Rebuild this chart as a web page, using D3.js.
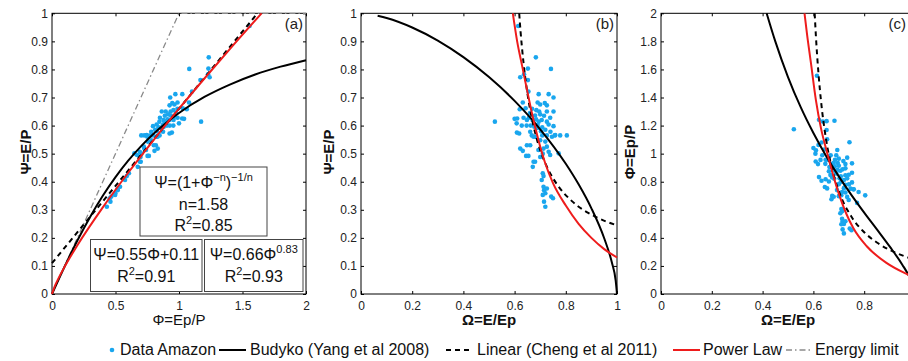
<!DOCTYPE html>
<html>
<head>
<meta charset="utf-8">
<script src="https://cdn.jsdelivr.net/npm/d3@7"></script>
<style>
  body { margin: 0; background: #fff; }
  svg { display: block; font-family: "Liberation Sans", Arial, sans-serif; }
  .tick text { font-size: 12px; fill: #222; font-family: "Liberation Sans", Arial, sans-serif; }
  .tick line { stroke: #000; }
</style>
</head>
<body>
<svg id="chart" width="908" height="361"></svg>
<script>
// Amazon basins: Omega = E/Ep and Psi = E/P
const omegaData = [
  0.614, 0.683, 0.742, 0.652, 0.637, 0.622, 0.652, 0.654, 0.694, 0.733,
  0.752, 0.632, 0.690, 0.700, 0.718, 0.726, 0.643, 0.620, 0.668, 0.685,
  0.696, 0.726, 0.752, 0.610, 0.600, 0.635, 0.648, 0.656, 0.670, 0.684,
  0.694, 0.706, 0.726, 0.739, 0.523, 0.608, 0.628, 0.647, 0.663, 0.677,
  0.690, 0.708, 0.720, 0.733, 0.752, 0.609, 0.618, 0.667, 0.682, 0.708,
  0.726, 0.757, 0.778, 0.804, 0.661, 0.674, 0.661, 0.648, 0.622, 0.632,
  0.645, 0.654, 0.693, 0.713, 0.726, 0.733, 0.739, 0.746, 0.759, 0.772,
  0.700, 0.720, 0.674, 0.680, 0.671, 0.710, 0.713, 0.713, 0.715, 0.720,
  0.710, 0.743, 0.750, 0.715, 0.720, 0.726, 0.706, 0.700, 0.715, 0.680,
  0.660, 0.690, 0.703, 0.740, 0.710, 0.700
];
const psiData = [
  0.955, 0.843, 0.802, 0.803, 0.783, 0.772, 0.762, 0.721, 0.712, 0.712,
  0.700, 0.682, 0.682, 0.675, 0.680, 0.672, 0.662, 0.658, 0.660, 0.655,
  0.650, 0.650, 0.650, 0.625, 0.624, 0.628, 0.620, 0.628, 0.620, 0.622,
  0.614, 0.620, 0.614, 0.628, 0.614, 0.608, 0.600, 0.600, 0.600, 0.596,
  0.592, 0.594, 0.585, 0.604, 0.598, 0.575, 0.572, 0.565, 0.560, 0.565,
  0.565, 0.565, 0.565, 0.565, 0.578, 0.560, 0.530, 0.530, 0.518, 0.510,
  0.492, 0.492, 0.513, 0.518, 0.525, 0.507, 0.495, 0.560, 0.566, 0.501,
  0.548, 0.543, 0.471, 0.471, 0.453, 0.430, 0.420, 0.382, 0.370, 0.359,
  0.353, 0.347, 0.341, 0.329, 0.311, 0.376, 0.406, 0.640, 0.635, 0.636,
  0.645, 0.602, 0.580, 0.578, 0.500, 0.488
];

// curves, [x, y]
const budykoA = [[0, 0], [0.05, 0.0497], [0.1, 0.0984], [0.2, 0.1906], [0.3, 0.2747], [0.4, 0.350], [0.5, 0.4165], [0.6, 0.475], [0.7, 0.526], [0.8, 0.571], [0.9, 0.610], [1.0, 0.645], [1.2, 0.702], [1.4, 0.746], [1.6, 0.782], [1.8, 0.810], [2.0, 0.833]];
const linearA = [[0, 0.11], [1.618, 1.0]];
const powerA = [[0, 0], [0.02, 0.0257], [0.05, 0.0549], [0.1, 0.0976], [0.2, 0.1736], [0.4, 0.3085], [0.6, 0.4319], [0.8, 0.5485], [1.0, 0.66], [1.2, 0.7678], [1.4, 0.8727], [1.65, 1.0]];
const energyA = [[0, 0], [1, 1], [2, 1]];

const budykoB = [[0.065, 0.9915], [0.1, 0.9833], [0.2, 0.9495], [0.3, 0.9028], [0.4, 0.8439], [0.5, 0.7728], [0.6, 0.688], [0.7, 0.5868], [0.8, 0.4638], [0.85, 0.3906], [0.9, 0.3052], [0.95, 0.1986], [0.98, 0.1119], [0.995, 0.0466], [1.0, 0]];
const linearB = [[0.618, 1.0], [0.6233, 0.935], [0.6286, 0.88], [0.6417, 0.77], [0.65, 0.715], [0.66, 0.66], [0.6875, 0.55], [0.7071, 0.495], [0.7333, 0.44], [0.77, 0.385], [0.825, 0.33], [0.9167, 0.275], [1.0, 0.2444]];
const powerB = [[0.593, 1.0], [0.61, 0.90], [0.63, 0.81], [0.65, 0.72], [0.67, 0.635], [0.693, 0.549], [0.72, 0.465], [0.75, 0.395], [0.80, 0.315], [0.85, 0.25], [0.90, 0.20], [0.95, 0.16], [1.0, 0.13]];

const budykoC = [[0.416, 2.0], [0.45, 1.80], [0.5, 1.546], [0.55, 1.331], [0.6, 1.147], [0.65, 0.984], [0.7, 0.838], [0.75, 0.705], [0.8, 0.580], [0.85, 0.460], [0.9, 0.339], [0.95, 0.209], [0.98, 0.114], [0.995, 0.047], [1.0, 0]];
const linearC = [[0.605, 2.0], [0.61, 1.833], [0.62, 1.571], [0.63, 1.375], [0.65, 1.1], [0.67, 0.917], [0.70, 0.733], [0.75, 0.55], [0.80, 0.44], [0.85, 0.367], [0.90, 0.314], [0.95, 0.275], [1.0, 0.244]];
const powerC = [[0.565, 2.0], [0.575, 1.85], [0.59, 1.65], [0.61, 1.38], [0.63, 1.18], [0.652, 1.02], [0.692, 0.76], [0.73, 0.57], [0.757, 0.47], [0.81, 0.34], [0.889, 0.22], [0.97, 0.14], [1.0, 0.115]];

const ticksPhiX = [0, 0.5, 1, 1.5, 2];
const ticksPsi = [0, 0.1, 0.2, 0.3, 0.4, 0.5, 0.6, 0.7, 0.8, 0.9, 1];
const ticksOmega = [0, 0.2, 0.4, 0.6, 0.8, 1];
const ticksPhiY = [0, 0.2, 0.4, 0.6, 0.8, 1, 1.2, 1.4, 1.6, 1.8, 2];

const legendLabels = ['Data Amazon', 'Budyko (Yang et al 2008)', 'Linear (Cheng et al 2011)', 'Power Law', 'Energy limit'];

const amazon = omegaData.map((o, i) => ({ omega: o, psi: psiData[i], phi: psiData[i] / o }));

const BLUE = '#19a6ee';
const RED = '#ee1c1c';
const styles = {
  budyko: { stroke: '#000', width: 2, dash: null },
  linear: { stroke: '#000', width: 2, dash: '5,4' },
  power: { stroke: RED, width: 2, dash: null },
  energy: { stroke: '#8a8a8a', width: 1.3, dash: '6,3,1.5,3' }
};

const svg = d3.select('#chart');
const plotTop = 13.3;
const plotBottom = 294;
const viewRight = 908;

const panels = [
  {
    id: 'a', left: 52, right: 306, xDomain: [0, 2], yDomain: [0, 1],
    xTicks: ticksPhiX, yTicks: ticksPsi, xKey: 'phi', yKey: 'psi',
    xTitle: 'Φ=Ep/P', xBold: false, yTitle: 'Ψ=E/P', yTitleX: 31,
    curves: [['energy', energyA, d3.curveLinear], ['budyko', budykoA], ['linear', linearA, d3.curveLinear], ['power', powerA]]
  },
  {
    id: 'b', left: 361, right: 617, xDomain: [0, 1], yDomain: [0, 1],
    xTicks: ticksOmega, yTicks: ticksPsi, xKey: 'omega', yKey: 'psi',
    xTitle: 'Ω=E/Ep', xBold: true, yTitle: 'Ψ=E/P', yTitleX: 334,
    curves: [['budyko', budykoB], ['linear', linearB], ['power', powerB]]
  },
  {
    id: 'c', left: 661, right: 915, xDomain: [0, 1], yDomain: [0, 2],
    xTicks: ticksOmega, yTicks: ticksPhiY, xKey: 'omega', yKey: 'phi',
    xTitle: 'Ω=E/Ep', xBold: true, yTitle: 'Φ=Ep/P', yTitleX: 635,
    curves: [['budyko', budykoC], ['linear', linearC], ['power', powerC]]
  }
];

panels.forEach((p) => {
  const x = d3.scaleLinear().domain(p.xDomain).range([p.left, p.right]);
  const y = d3.scaleLinear().domain(p.yDomain).range([plotBottom, plotTop]);
  const g = svg.append('g').attr('class', `panel panel-${p.id}`);

  const clipId = `clip-${p.id}`;
  svg.append('clipPath').attr('id', clipId)
    .append('rect')
    .attr('x', p.left - 1).attr('y', plotTop - 1)
    .attr('width', p.right - p.left + 2).attr('height', plotBottom - plotTop + 2);

  // axes, MATLAB style: ticks inside on all four sides
  // (the last label of panel c falls past the page edge in the original, so it is left out)
  const fmt = (d) => (x(d) + 6 > viewRight ? '' : String(d));
  g.append('g').attr('transform', `translate(0,${plotBottom})`)
    .call(d3.axisBottom(x).tickValues(p.xTicks).tickFormat(fmt).tickSizeInner(-3).tickSizeOuter(0).tickPadding(7));
  g.append('g').attr('transform', `translate(0,${plotTop})`)
    .call(d3.axisTop(x).tickValues(p.xTicks).tickFormat('').tickSizeInner(-3).tickSizeOuter(0));
  g.append('g').attr('transform', `translate(${p.left},0)`)
    .call(d3.axisLeft(y).tickValues(p.yTicks).tickFormat(String).tickSizeInner(-3).tickSizeOuter(0).tickPadding(4));
  g.append('g').attr('transform', `translate(${p.right},0)`)
    .call(d3.axisRight(y).tickValues(p.yTicks).tickFormat('').tickSizeInner(-3).tickSizeOuter(0));
  g.selectAll('.domain').remove();

  g.append('rect')
    .attr('x', p.left).attr('y', plotTop)
    .attr('width', p.right - p.left).attr('height', plotBottom - plotTop)
    .attr('fill', 'none').attr('stroke', '#000').attr('stroke-width', 1);

  const plot = g.append('g').attr('clip-path', `url(#${clipId})`);

  plot.selectAll('circle')
    .data(amazon)
    .join('circle')
    .attr('cx', (d) => x(d[p.xKey]))
    .attr('cy', (d) => y(d[p.yKey]))
    .attr('r', 2.3)
    .attr('fill', BLUE);

  p.curves.forEach(([kind, pts, curve]) => {
    const s = styles[kind];
    const line = d3.line()
      .x((d) => x(d[0]))
      .y((d) => y(d[1]))
      .curve(curve || d3.curveMonotoneX);
    plot.append('path')
      .attr('d', line(pts))
      .attr('fill', 'none')
      .attr('stroke', s.stroke)
      .attr('stroke-width', s.width)
      .attr('stroke-dasharray', s.dash);
  });

  // panel tag
  g.append('text')
    .attr('x', Math.min(p.right - 3, viewRight - 2)).attr('y', 29)
    .attr('text-anchor', 'end')
    .attr('font-size', 15)
    .attr('fill', '#222')
    .text(`(${p.id})`);

  g.append('text')
    .attr('x', (p.left + p.right) / 2).attr('y', 325)
    .attr('text-anchor', 'middle')
    .attr('font-size', 15)
    .attr('font-weight', p.xBold ? 'bold' : 'normal')
    .attr('fill', '#111')
    .text(p.xTitle);

  g.append('text')
    .attr('transform', `translate(${p.yTitleX},152) rotate(-90)`)
    .attr('text-anchor', 'middle')
    .attr('font-size', 15)
    .attr('font-weight', 'bold')
    .attr('fill', '#111')
    .text(p.yTitle);
});

// equation boxes in panel (a)
const boxes = [
  { x0: 140, x1: 267, y0: 167, y1: 236, lines: [
    [['Ψ=(1+Φ'], ['−n', 'sup'], [')'], ['−1/n', 'sup']],
    [['n=1.58']],
    [['R'], ['2', 'sup'], ['=0.85']]
  ], baselines: [188, 210, 231] },
  { x0: 90.5, x1: 202, y0: 239.5, y1: 291.5, lines: [
    [['Ψ=0.55Φ+0.11']],
    [['R'], ['2', 'sup'], ['=0.91']]
  ], baselines: [260, 282] },
  { x0: 204.5, x1: 303, y0: 239.5, y1: 291.5, lines: [
    [['Ψ=0.66Φ'], ['0.83', 'sup']],
    [['R'], ['2', 'sup'], ['=0.93']]
  ], baselines: [260, 282] }
];

const boxLayer = svg.append('g').attr('class', 'eq-boxes');
boxes.forEach((b) => {
  boxLayer.append('rect')
    .attr('x', b.x0).attr('y', b.y0)
    .attr('width', b.x1 - b.x0).attr('height', b.y1 - b.y0)
    .attr('fill', '#fff').attr('stroke', '#444').attr('stroke-width', 1);
  b.lines.forEach((parts, i) => {
    const t = boxLayer.append('text')
      .attr('x', (b.x0 + b.x1) / 2).attr('y', b.baselines[i])
      .attr('text-anchor', 'middle')
      .attr('font-size', 16)
      .attr('fill', '#111');
    let raised = false;
    parts.forEach(([str, kind]) => {
      const span = t.append('tspan').text(str);
      if (kind === 'sup' && !raised) {
        span.attr('dy', -7).attr('font-size', 11);
        raised = true;
      } else if (kind === 'sup') {
        span.attr('font-size', 11);
      } else if (raised) {
        span.attr('dy', 7);
        raised = false;
      }
    });
  });
});

// legend, slots placed as in the original strip
const legend = svg.append('g').attr('class', 'legend').attr('font-size', 16).attr('fill', '#111');
const legendY = 350;
const legendItems = [
  { kind: null, sym: 112, text: 120 },
  { kind: 'budyko', sym: 219, text: 250 },
  { kind: 'linear', sym: 446, text: 477 },
  { kind: 'power', sym: 673, text: 703 },
  { kind: 'energy', sym: 786, text: 815 }
];
legendItems.forEach((item, i) => {
  if (item.kind === null) {
    legend.append('circle').attr('cx', item.sym).attr('cy', legendY).attr('r', 2.3).attr('fill', BLUE);
  } else {
    const s = styles[item.kind];
    legend.append('line')
      .attr('x1', item.sym).attr('x2', item.sym + 27)
      .attr('y1', legendY).attr('y2', legendY)
      .attr('stroke', s.stroke).attr('stroke-width', s.width)
      .attr('stroke-dasharray', s.dash);
  }
  legend.append('text').attr('x', item.text).attr('y', legendY + 5).text(legendLabels[i]);
});
</script>
</body>
</html>
